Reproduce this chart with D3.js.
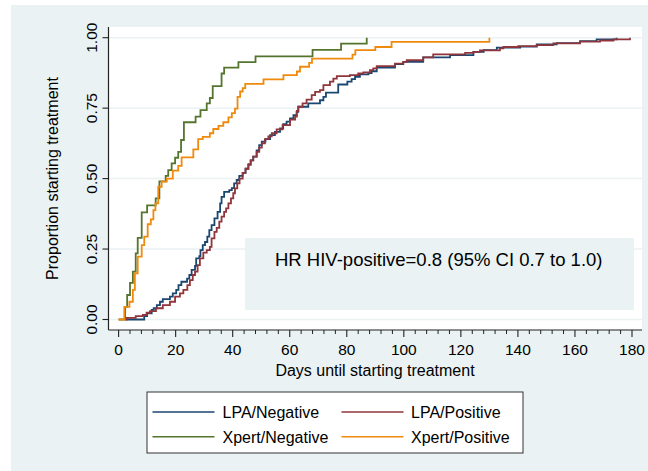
<!DOCTYPE html>
<html>
<head>
<meta charset="utf-8">
<script src="https://cdn.jsdelivr.net/npm/d3@7"></script>
<style>
  html, body { margin: 0; padding: 0; background: #ffffff; }
  svg { display: block; }
  text { font-family: "Liberation Sans", Arial, sans-serif; fill: #000; }
</style>
</head>
<body>
<svg id="chart" width="648" height="471"></svg>
<script>
// ---- Data (day, cumulative proportion starting treatment) ----
const seriesNames = ["LPA/Negative", "LPA/Positive", "Xpert/Negative", "Xpert/Positive"];
const seriesColors = ["#1a476f", "#90353b", "#55752f", "#f08a0c"];

const lpaNegative = [[2.5,0],[9,0.012],[10,0.022],[11.6,0.034],[12.3,0.04],[13.4,0.051],[14.5,0.063],[15.5,0.072],[18,0.081],[19,0.093],[20.2,0.105],[21,0.122],[22,0.134],[24,0.145],[24.8,0.158],[25.6,0.176],[26.8,0.19],[27.2,0.217],[28.3,0.225],[28.7,0.246],[29.5,0.264],[30.3,0.275],[31.1,0.294],[31.8,0.317],[32.6,0.335],[33.6,0.359],[34.7,0.382],[35.6,0.412],[36.1,0.435],[37,0.453],[38.8,0.459],[39.7,0.466],[40.5,0.483],[41.4,0.495],[42.3,0.51],[43.5,0.52],[44.5,0.535],[45.5,0.55],[46.3,0.565],[47.2,0.578],[48.4,0.6],[49.3,0.619],[50.2,0.631],[51.5,0.64],[53.1,0.654],[54.8,0.666],[56.6,0.678],[57.7,0.693],[58.9,0.702],[60.1,0.714],[61.3,0.725],[62.4,0.737],[63,0.755],[66.5,0.767],[70.6,0.778],[71.8,0.79],[72.7,0.805],[77,0.834],[80.2,0.844],[81.7,0.853],[82.9,0.861],[84.6,0.87],[87.6,0.874],[88.7,0.881],[90.5,0.894],[96.9,0.906],[99.8,0.914],[106.8,0.93],[116.2,0.938],[124.4,0.95],[128,0.956],[132.6,0.965],[140.8,0.968],[146.6,0.976],[153.6,0.981],[161.8,0.988],[167.6,0.994],[174.6,1.0]];

const lpaPositive = [[2.5,0],[2.8,0.006],[6,0.012],[8.5,0.016],[9.8,0.024],[11,0.03],[13.1,0.04],[15.5,0.051],[18,0.063],[19.8,0.081],[21.5,0.093],[22.7,0.105],[24.1,0.122],[25,0.14],[26,0.158],[26.8,0.17],[27.7,0.193],[28.5,0.217],[29.7,0.237],[30.9,0.246],[32,0.258],[32.6,0.288],[33.6,0.311],[34.4,0.325],[35.3,0.347],[36.1,0.365],[37,0.382],[37.7,0.394],[38.5,0.412],[39.4,0.43],[40.2,0.448],[40.8,0.465],[41.6,0.483],[42.4,0.5],[43.5,0.52],[44.5,0.535],[45.5,0.55],[46.3,0.565],[47.2,0.578],[48.4,0.595],[49.3,0.61],[50.2,0.625],[51.3,0.64],[52.5,0.65],[53.7,0.661],[55.4,0.675],[57.5,0.69],[60.1,0.709],[61.9,0.72],[62.5,0.74],[63,0.755],[64.5,0.767],[65.9,0.78],[67.7,0.796],[68.9,0.808],[70.6,0.814],[71.8,0.832],[74.1,0.844],[75.3,0.855],[76.5,0.864],[81.1,0.867],[84,0.873],[85.8,0.877],[88.1,0.885],[89.3,0.891],[90.5,0.899],[96.9,0.908],[99.8,0.914],[101,0.92],[106.8,0.93],[110.3,0.941],[121.5,0.946],[124.4,0.95],[126.7,0.955],[133.7,0.962],[134.9,0.967],[140.1,0.97],[146.6,0.974],[152.4,0.98],[161.8,0.986],[168.8,0.99],[173.5,0.994],[179.3,1.0]];

const xpertNegative = [[0,0],[2.3,0.045],[3,0.087],[4,0.13],[5,0.17],[6,0.235],[6.7,0.29],[8.1,0.38],[10,0.405],[13,0.43],[14.3,0.49],[16.5,0.51],[17.4,0.53],[18.6,0.554],[19.8,0.574],[20.9,0.595],[21.9,0.637],[22.9,0.7],[27,0.72],[28.7,0.743],[30.9,0.767],[32,0.786],[33,0.828],[36.1,0.873],[37,0.894],[42,0.913],[48,0.934],[68,0.957],[78,0.979],[87,1.0]];

const xpertPositive = [[0,0],[2,0.045],[3.8,0.063],[5,0.105],[5.7,0.164],[6.7,0.223],[8.1,0.264],[9,0.294],[10.2,0.338],[11.3,0.355],[12.2,0.388],[12.9,0.412],[13.9,0.471],[15.1,0.489],[16.9,0.5],[19,0.528],[20.9,0.545],[22.1,0.575],[26.2,0.604],[27.9,0.64],[29.5,0.648],[32,0.661],[33.2,0.676],[35,0.687],[36.7,0.7],[38.5,0.717],[39.7,0.732],[40.8,0.748],[41.7,0.79],[42.6,0.809],[43.5,0.821],[44.4,0.836],[50.8,0.852],[57.8,0.867],[62.5,0.88],[63.6,0.897],[66.8,0.911],[67.8,0.926],[82,0.94],[83,0.956],[90,0.967],[95.7,0.985],[130,1.0]];

const xTicks = [0,20,40,60,80,100,120,140,160,180];
const yTicks = [0, 0.25, 0.5, 0.75, 1];
const yTickLabels = ["0.00","0.25","0.50","0.75","1.00"];
const xTitle = "Days until starting treatment";
const yTitle = "Proportion starting treatment";
const noteText = "HR HIV-positive=0.8 (95% CI 0.7 to 1.0)";

// ---- Layout ----
const svg = d3.select("#chart");
const bg = "#eaf2f3";

// outer graph region
svg.append("rect").attr("x", 11).attr("y", 5).attr("width", 637).attr("height", 466).attr("fill", bg);
// plot region
const plotL = 108.5, plotR = 642, plotT = 27, plotB = 330;
svg.append("rect").attr("x", plotL).attr("y", plotT).attr("width", plotR - plotL).attr("height", plotB - plotT).attr("fill", "#ffffff");

const x = d3.scaleLinear().domain([0, 180]).range([118.6, 632]);
const y = d3.scaleLinear().domain([0, 1]).range([319.5, 37.7]);

// gridlines
svg.append("g").selectAll("line").data(yTicks).join("line")
  .attr("x1", plotL).attr("x2", plotR)
  .attr("y1", d => y(d)).attr("y2", d => y(d))
  .attr("stroke", bg).attr("stroke-width", 1.5);

// HR note box
svg.append("rect").attr("x", 245).attr("y", 238).attr("width", 389).attr("height", 72).attr("fill", bg);
svg.append("text").attr("x", 275).attr("y", 266).attr("font-size", 18.5).text(noteText);

// curves
const allSeries = [lpaNegative, lpaPositive, xpertNegative, xpertPositive];
const line = d3.line().x(d => x(d[0])).y(d => y(d[1])).curve(d3.curveStepAfter);
const drawOrder = [0, 1, 2, 3];
drawOrder.forEach(i => {
  svg.append("path").datum(allSeries[i])
    .attr("d", line)
    .attr("fill", "none")
    .attr("stroke", seriesColors[i])
    .attr("stroke-width", 1.8)
    .attr("stroke-linejoin", "miter");
});

// x axis
const xAxisG = svg.append("g").attr("transform", `translate(0,${plotB})`);
xAxisG.append("line").attr("x1", plotL).attr("x2", plotR).attr("y1", 0).attr("y2", 0).attr("stroke", "#222").attr("stroke-width", 1.2);
const minorX = d3.range(0, 181, 4).filter(d => d % 20 !== 0);
xAxisG.selectAll("line.minor").data(minorX).join("line").attr("class", "minor")
  .attr("x1", d => x(d)).attr("x2", d => x(d)).attr("y1", 0).attr("y2", 4)
  .attr("stroke", "#222").attr("stroke-width", 1);
xAxisG.selectAll("line.major").data(xTicks).join("line").attr("class", "major")
  .attr("x1", d => x(d)).attr("x2", d => x(d)).attr("y1", 0).attr("y2", 7)
  .attr("stroke", "#222").attr("stroke-width", 1.1);
xAxisG.selectAll("text").data(xTicks).join("text")
  .attr("x", d => x(d)).attr("y", 25).attr("text-anchor", "middle")
  .attr("font-size", 15.5).text(d => d);
svg.append("text").attr("x", 375).attr("y", 376).attr("text-anchor", "middle")
  .attr("font-size", 16).text(xTitle);

// y axis
const yAxisG = svg.append("g");
yAxisG.append("line").attr("x1", plotL).attr("x2", plotL).attr("y1", plotT).attr("y2", plotB).attr("stroke", "#222").attr("stroke-width", 1.2);
yAxisG.selectAll("line.major").data(yTicks).join("line")
  .attr("x1", plotL - 6).attr("x2", plotL).attr("y1", d => y(d)).attr("y2", d => y(d))
  .attr("stroke", "#222").attr("stroke-width", 1.1);
yAxisG.selectAll("text").data(yTicks).join("text")
  .attr("transform", d => `translate(97,${y(d)}) rotate(-90)`)
  .attr("text-anchor", "middle").attr("font-size", 15.5)
  .text((d, i) => yTickLabels[i]);
svg.append("text").attr("transform", `translate(58,178.5) rotate(-90)`)
  .attr("text-anchor", "middle").attr("font-size", 16).text(yTitle);

// legend
const leg = svg.append("g");
leg.append("rect").attr("x", 147).attr("y", 392).attr("width", 376).attr("height", 61)
  .attr("fill", "#ffffff").attr("stroke", "#333").attr("stroke-width", 1);
const legPos = [
  {lx: 152.5, ly: 412, tx: 222.5},
  {lx: 341.5, ly: 412, tx: 411},
  {lx: 152.5, ly: 436.7, tx: 222.5},
  {lx: 341.5, ly: 436.7, tx: 411}
];
seriesNames.forEach((name, i) => {
  const p = legPos[i];
  leg.append("line").attr("x1", p.lx).attr("x2", p.lx + 62).attr("y1", p.ly).attr("y2", p.ly)
    .attr("stroke", seriesColors[i]).attr("stroke-width", 1.4);
  leg.append("text").attr("x", p.tx).attr("y", p.ly + 5.8).attr("font-size", 16).text(name);
});
</script>
</body>
</html>
